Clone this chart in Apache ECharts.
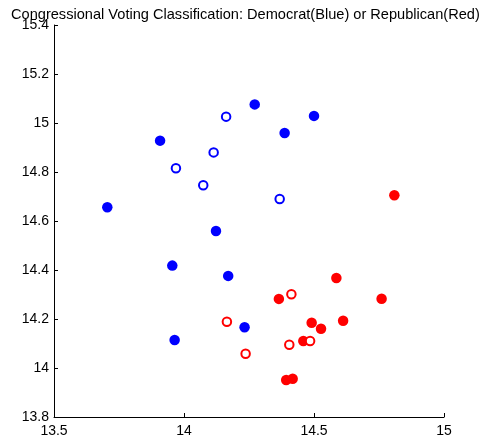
<!DOCTYPE html>
<html>
<head>
<meta charset="utf-8">
<script src="https://cdn.jsdelivr.net/npm/echarts@6/dist/echarts.min.js"></script>
<style>
html,body{margin:0;padding:0;background:#fff;}
#chart{width:483px;height:441px;}
</style>
</head>
<body>
<div id="chart"></div>
<script>
const titleText = "Congressional Voting Classification: Democrat(Blue) or Republican(Red)";
const xTicks = [13.5, 14, 14.5, 15];
const yTicks = [13.8, 14, 14.2, 14.4, 14.6, 14.8, 15, 15.2, 15.4];

const demFilled = [
  [14.272, 15.076], [14.500, 15.029], [14.387, 14.959], [13.908, 14.928],
  [13.705, 14.656], [14.123, 14.559], [13.955, 14.418], [14.170, 14.376],
  [14.233, 14.166], [13.964, 14.114]
];
const demOpen = [
  [14.162, 15.026], [14.114, 14.880], [13.969, 14.815], [14.074, 14.746],
  [14.368, 14.690]
];
const repFilled = [
  [14.809, 14.705], [14.586, 14.367], [14.365, 14.282], [14.760, 14.283],
  [14.491, 14.185], [14.612, 14.193], [14.527, 14.160], [14.459, 14.110],
  [14.393, 13.951], [14.418, 13.956]
];
const repOpen = [
  [14.413, 14.301], [14.165, 14.189], [14.485, 14.110], [14.405, 14.095],
  [14.237, 14.058]
];

const FONT = "Liberation Sans, Arial, Helvetica, sans-serif";
const chart = echarts.init(document.getElementById('chart'), null, {renderer: 'canvas'});

function filledSeries(data, color) {
  return {
    type: 'scatter', data: data, symbol: 'circle', symbolSize: 10.5,
    itemStyle: {color: color, opacity: 1}, silent: true, animation: false
  };
}
function openSeries(data, color) {
  return {
    type: 'scatter', data: data, symbol: 'circle', symbolSize: 8.5,
    itemStyle: {color: '#ffffff', borderColor: color, borderWidth: 2, opacity: 1},
    silent: true, animation: false
  };
}

const axisCommon = {
  axisLine: {show: true, onZero: false, lineStyle: {color: '#000', width: 1}},
  axisTick: {show: true, inside: true, length: 4, lineStyle: {color: '#000'}},
  splitLine: {show: false},
  axisLabel: {color: '#000', fontFamily: FONT, fontSize: 14, showMinLabel: true, showMaxLabel: true}
};

chart.setOption({
  animation: false,
  backgroundColor: '#fff',
  title: {
    text: titleText, left: 6, top: 2,
    textStyle: {fontFamily: FONT, fontSize: 14.6, fontWeight: 'normal', color: '#000'}
  },
  grid: {left: 54, right: 39, top: 25, bottom: 24, containLabel: false},
  xAxis: Object.assign({}, axisCommon, {
    type: 'value', min: xTicks[0], max: xTicks[xTicks.length - 1], interval: 0.5,
    axisLabel: Object.assign({}, axisCommon.axisLabel, {margin: 7})
  }),
  yAxis: Object.assign({}, axisCommon, {
    type: 'value', min: yTicks[0], max: yTicks[yTicks.length - 1], interval: 0.2,
    axisLabel: Object.assign({}, axisCommon.axisLabel, {margin: 5,
      formatter: function (v) { return String(Math.round(v * 10) / 10); }})
  }),
  series: [
    filledSeries(demFilled, '#0000ff'),
    openSeries(demOpen, '#0000ff'),
    filledSeries(repFilled, '#ff0000'),
    openSeries(repOpen, '#ff0000')
  ]
});
</script>
</body>
</html>
